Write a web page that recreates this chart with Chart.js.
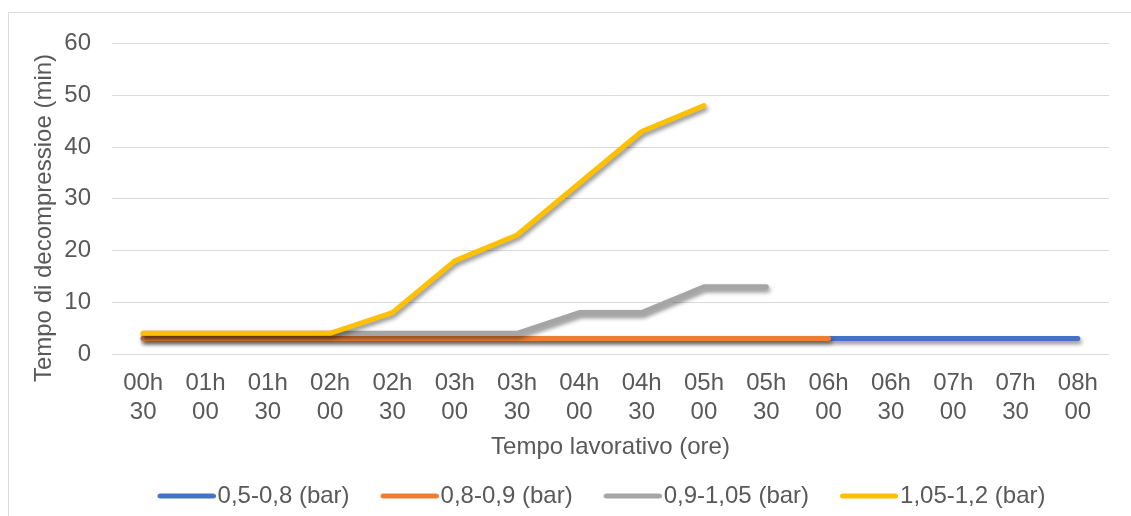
<!DOCTYPE html>
<html>
<head>
<meta charset="utf-8">
<script src="https://cdn.jsdelivr.net/npm/chart.js@4.4.1/dist/chart.umd.min.js"></script>
<style>
  html, body { margin: 0; padding: 0; background: #fff; overflow: hidden; }
  #wrap { position: relative; width: 1131px; height: 516px; }
  #frame { position: absolute; left: 8px; top: 12px; width: 1300px; height: 700px; border: 1px solid #d9d9d9; box-sizing: border-box; }
  canvas { position: absolute; left: 0; top: 0; }
</style>
</head>
<body>
<div id="wrap">
  <div id="frame"></div>
  <canvas id="chart" width="1131" height="516"></canvas>
</div>
<script>
// Working time (x) and decompression time in minutes for each pressure band
const categories = [
  ['00h', '30'], ['01h', '00'], ['01h', '30'], ['02h', '00'],
  ['02h', '30'], ['03h', '00'], ['03h', '30'], ['04h', '00'],
  ['04h', '30'], ['05h', '00'], ['05h', '30'], ['06h', '00'],
  ['06h', '30'], ['07h', '00'], ['07h', '30'], ['08h', '00']
];
const seriesNames = ['0,5-0,8 (bar)', '0,8-0,9 (bar)', '0,9-1,05 (bar)', '1,05-1,2 (bar)'];
const band05to08 = [3, 3, 3, 3, 3, 3, 3, 3, 3, 3, 3, 3, 3, 3, 3, 3];
const band08to09 = [3, 3, 3, 3, 3, 3, 3, 3, 3, 3, 3, 3];
const band09to105 = [4, 4, 4, 4, 4, 4, 4, 8, 8, 13, 13];
const band105to12 = [4, 4, 4, 4, 8, 18, 23, 33, 43, 48];
const yTicks = { min: 0, max: 60, step: 10 };
const xTitle = 'Tempo lavorativo (ore)';
const yTitle = 'Tempo di decompressioe (min)';

const textColor = '#595959';
const gridColor = '#d9d9d9';
const fontFamily = '"Liberation Sans", Arial, sans-serif';
const baseFont = { family: fontFamily, size: 24 };

// soft drop shadow under each series line
const lineShadow = {
  id: 'lineShadow',
  beforeDatasetDraw(chart) {
    const c = chart.ctx;
    c.save();
    c.shadowColor = 'rgba(0,0,0,0.45)';
    c.shadowBlur = 4;
    c.shadowOffsetX = 1.5;
    c.shadowOffsetY = 3;
  },
  afterDatasetDraw(chart) {
    chart.ctx.restore();
  }
};

// vertical axis title, placed a little below the middle of the plot
const sideTitle = {
  id: 'sideTitle',
  afterDraw(chart) {
    const c = chart.ctx;
    c.save();
    c.translate(44.5, 218);
    c.rotate(-Math.PI / 2);
    c.font = `${baseFont.size}px ${fontFamily}`;
    c.fillStyle = textColor;
    c.textAlign = 'center';
    c.textBaseline = 'middle';
    c.fillText(yTitle, 0, 0);
    c.restore();
  }
};

// centre the legend under the whole frame rather than the plot area
const legendNudge = {
  id: 'legendNudge',
  afterLayout(chart) {
    const lg = chart.legend;
    if (!lg) return;
    lg.left -= 9;
    lg.right -= 9;
    lg.top += 2;
    lg.bottom += 2;
  }
};

// short rounded line used as legend key, drawn slightly wider than its box
function legendSwatch(color) {
  const cv = document.createElement('canvas');
  cv.width = 68;
  cv.height = 10;
  const c = cv.getContext('2d');
  c.strokeStyle = color;
  c.lineWidth = 5;
  c.lineCap = 'round';
  c.beginPath();
  c.moveTo(12.5, 5);
  c.lineTo(65.5, 5);
  c.stroke();
  return cv;
}

function series(label, data, color, order) {
  return {
    label, data,
    borderColor: color,
    backgroundColor: color,
    borderWidth: 5,
    borderCapStyle: 'round',
    borderJoinStyle: 'round',
    pointRadius: 0,
    pointHoverRadius: 0,
    tension: 0,
    fill: false,
    order
  };
}

new Chart(document.getElementById('chart'), {
  type: 'line',
  data: {
    labels: categories,
    datasets: [
      series(seriesNames[0], band05to08, '#4472c4', 4),
      series(seriesNames[1], band08to09, '#ed7d31', 3),
      series(seriesNames[2], band09to105, '#a5a5a5', 2),
      series(seriesNames[3], band105to12, '#ffc000', 1)
    ]
  },
  plugins: [lineShadow, sideTitle, legendNudge],
  options: {
    responsive: false,
    animation: false,
    events: [],
    layout: { padding: { left: 31, right: 22, top: 43.5, bottom: 0 } },
    scales: {
      x: {
        offset: true,
        grid: { display: false, drawTicks: false },
        border: { display: false },
        ticks: { color: textColor, font: baseFont, padding: 15, maxRotation: 0, autoSkip: false },
        title: { display: true, text: xTitle, color: textColor, font: baseFont, padding: { top: 0, bottom: -11 } },
        afterFit(scale) { scale.height = 97; }
      },
      y: {
        min: yTicks.min,
        max: yTicks.max,
        grid: { color: gridColor, lineWidth: 1, drawTicks: false },
        border: { display: false },
        ticks: { stepSize: yTicks.step, color: textColor, font: baseFont, padding: 21 },
        title: { display: false },
        afterFit(scale) { scale.width = 81; }
      }
    },
    plugins: {
      tooltip: { enabled: false },
      legend: {
        display: true,
        position: 'bottom',
        fullSize: false,
        labels: {
          usePointStyle: true,
          pointStyleWidth: 48,
          padding: 31,
          color: textColor,
          font: baseFont,
          sort: (a, b) => a.datasetIndex - b.datasetIndex,
          generateLabels(chart) {
            const items = Chart.defaults.plugins.legend.labels.generateLabels(chart);
            items.forEach(item => {
              item.pointStyle = legendSwatch(chart.data.datasets[item.datasetIndex].borderColor);
            });
            return items;
          }
        }
      }
    }
  }
});
</script>
</body>
</html>
